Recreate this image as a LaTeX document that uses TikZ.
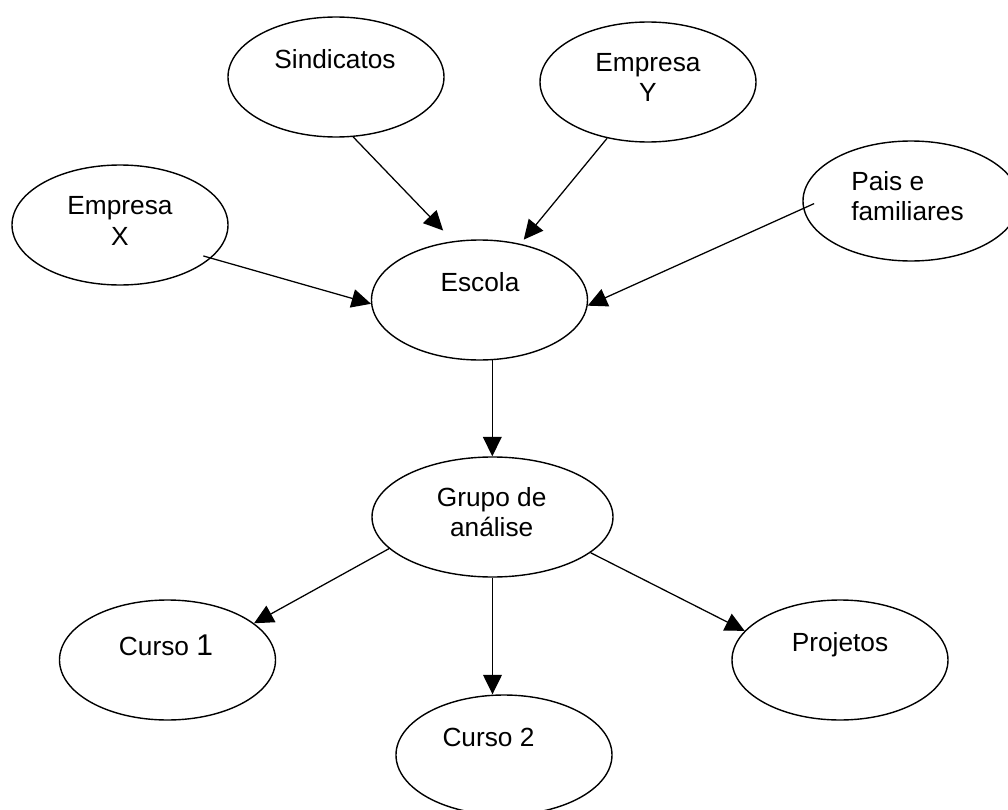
\documentclass[tikz,border=0pt]{standalone}
\usepackage{fontspec}
\setmainfont{Liberation Sans}
\usetikzlibrary{arrows.meta,shapes.geometric}
\begin{document}
\begin{tikzpicture}[x=0.75pt,y=-0.75pt,
  oval/.style={draw,ellipse,line width=1.05pt,minimum width=162pt,minimum height=90pt,inner sep=0pt},
  lbl/.style={inner sep=0pt,anchor=base,align=center,font=\fontsize{19.7}{22.9}\selectfont},
  arr/.style={line width=0.95pt,-{Triangle[length=14.5pt,width=14pt]}}]
\useasboundingbox (0,0) rectangle (1008,810);
\clip (0,0) rectangle (1008,810);

% ellipses
\node[oval] (sind) at (336,77) {};
\node[oval] (empy) at (648,82) {};
\node[oval] (empx) at (120,225) {};
\node[oval] (pais) at (911,201) {};
\node[oval] (escola) at (479.5,300) {};
\node[oval,minimum width=180.75pt] (grupo) at (492.5,517) {};
\node[oval] (curso1) at (167.5,660) {};
\node[oval] (curso2) at (504,755) {};
\node[oval] (projetos) at (840,660) {};

% labels (two-line labels are placed by the baseline of their last line)
\node[lbl] (sindt) at (335,68) {Sindicatos};
\node[lbl] (empyt) at (648,101.7) {Empresa\\Y};
\node[lbl] (empxt) at (120,245.5) {Empresa\\X};
\node[lbl,align=left,anchor=base west] (paist) at (851,220.7) {Pais e\\familiares};
\node[lbl] (escolat) at (480,291.7) {Escola};
\node[lbl] (grupot) at (491.7,536.7) {Grupo de\\análise};
\node[lbl] (curso1t) at (166,655.7) {Curso {\fontsize{22.5}{26}\selectfont 1}};
\node[lbl] (curso2t) at (488.5,746.7) {Curso 2};
\node[lbl] (projetost) at (840,651) {Projetos};

% connectors into the school
\draw[arr,shorten >=11pt] (sind.-74) -- (escola.114);
\draw[arr,shorten >=4pt] (empy.234) -- (escola.54);
\draw[arr,shorten <=-6pt] (empx.-20) -- (escola.182);
\draw[arr,shorten <=-9pt] (pais.184) -- (escola.-3);

% school to analysis group
\draw[arr] (escola.-78) -- (escola.-78 |- grupo.north);

% analysis group to its outputs
\draw[arr] (grupo.197) -- (curso1.23);
\draw[arr] (grupo.south) -- (grupo.south |- curso2.north);
\draw[arr] (grupo.-20.5) -- (projetos.163);
\end{tikzpicture}
\end{document}
